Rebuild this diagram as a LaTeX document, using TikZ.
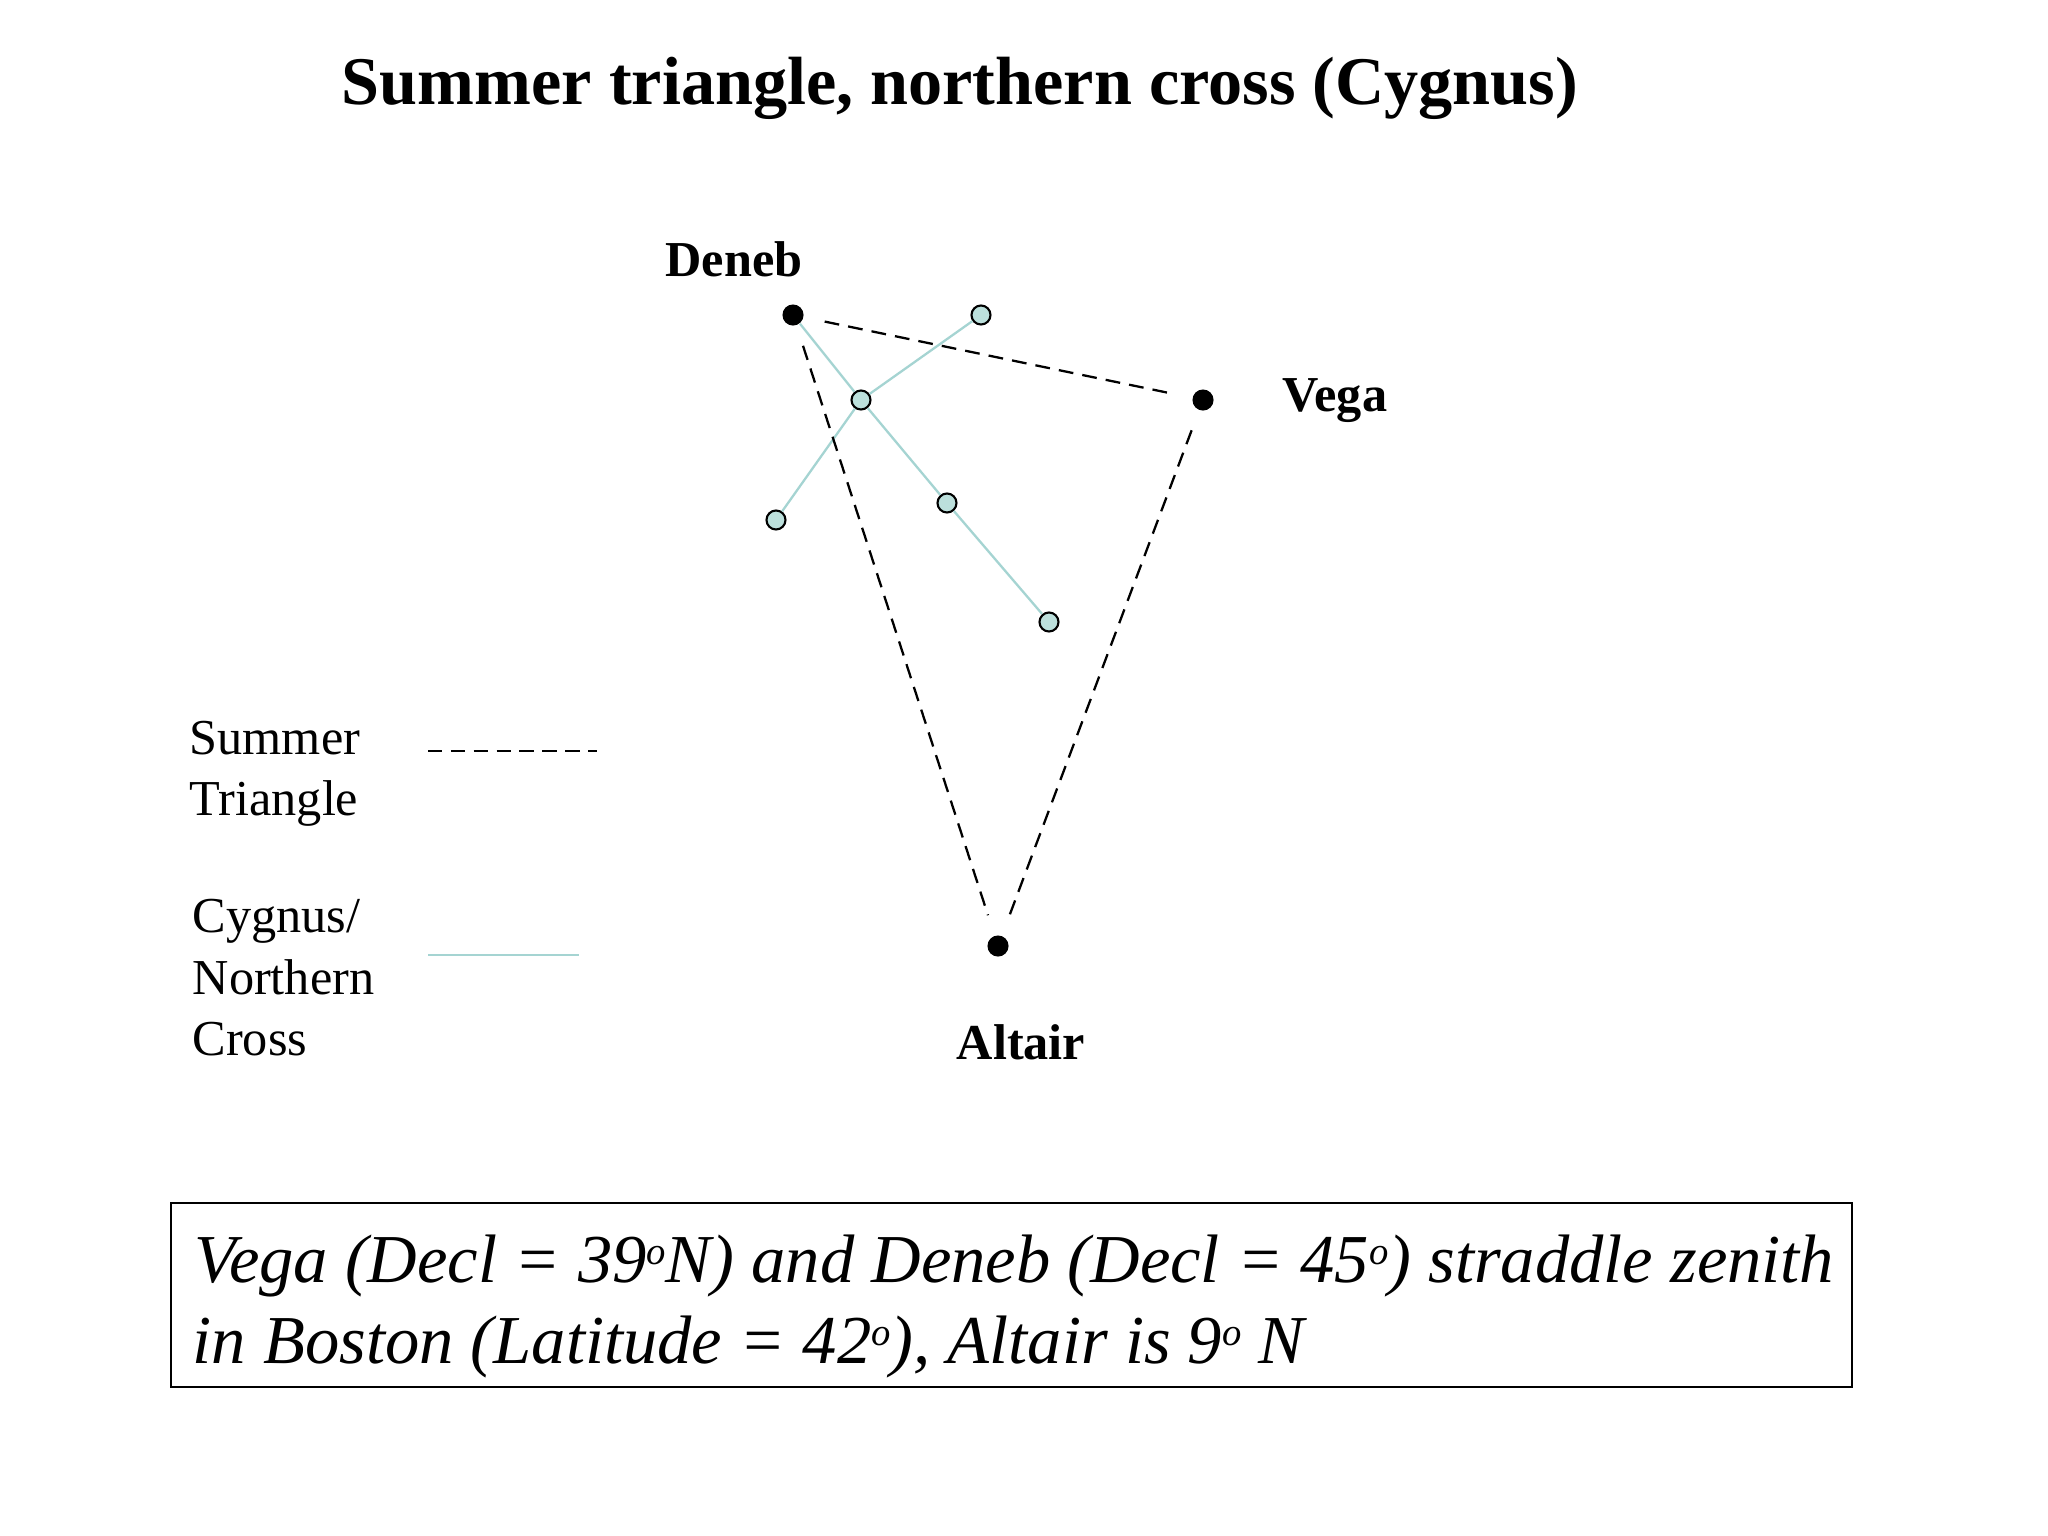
\documentclass[tikz,border=0pt]{standalone}
\usepackage{fontspec}
\setmainfont{Liberation Serif}
\definecolor{crossline}{RGB}{165,212,210}
\definecolor{crossfill}{RGB}{188,224,220}
\newcommand{\degsup}{\raisebox{0.55ex}{\fontsize{11}{11}\selectfont o}}
\begin{document}
\begin{tikzpicture}[x=0.01cm,y=-0.01cm,
  bright/.style={circle,fill=black,inner sep=0pt,minimum size=6pt},
  faint/.style={circle,draw=black,line width=0.6pt,fill=crossfill,inner sep=0pt,minimum size=5.4pt},
  triline/.style={line width=0.65pt,dash pattern=on 4.2pt off 2.6pt,shorten >=6pt,shorten <=6pt},
  crosslink/.style={crossline,line width=0.65pt},
  starlabel/.style={font=\fontsize{14.3}{17}\selectfont\bfseries,anchor=base,inner sep=0pt},
  legendtext/.style={font=\fontsize{14.3}{17}\selectfont,anchor=base west,inner sep=0pt},
  boxtext/.style={font=\fontsize{19.5}{23}\selectfont\itshape,anchor=base west,inner sep=0pt}]
\useasboundingbox[fill=white] (0,0) rectangle (2048,1536);
% title
\node[anchor=base,inner sep=0pt,font=\fontsize{19.4}{23}\selectfont\bfseries] (title) at (960,104) {Summer triangle, northern cross (Cygnus)};
% bright stars
\node[bright] (deneb) at (793,315) {};
\node[bright] (vega) at (1203,400) {};
\node[bright] (altair) at (998,946) {};
\node[starlabel] (denebl) at (734,276) {Deneb};
\node[starlabel] (vegal) at (1335,411) {Vega};
\node[starlabel] (altairl) at (1021,1059) {Altair};
% cross stars
\node[faint] (c1) at (981,315) {};
\node[faint] (c2) at (861,400) {};
\node[faint] (c3) at (776,520) {};
\node[faint] (c4) at (947,503) {};
\node[faint] (c5) at (1049,622) {};
\draw[crosslink] (deneb) -- (c2) -- (c4) -- (c5);
\draw[crosslink] (c1) -- (c2) -- (c3);
% triangle
\draw[triline] (deneb) -- (vega);
\draw[triline] (deneb) -- (altair);
\draw[triline] (vega) -- (altair);
% legend
\node[legendtext] (l1) at (189,754) {Summer};
\node[legendtext] (l2) at (189,815) {Triangle};
\node[legendtext] (l3) at (192,932) {Cygnus/};
\node[legendtext] (l4) at (192,994) {Northern};
\node[legendtext] (l5) at (192,1055) {Cross};
\coordinate (d1) at (428,751);
\coordinate (d2) at (597,751);
\coordinate (e1) at (428,955);
\coordinate (e2) at (579,955);
\draw[line width=0.5pt,dash pattern=on 4.1pt off 2.4pt] (d1) -- (d2);
\draw[crosslink] (e1) -- (e2);
% note box
\node[draw,line width=0.6pt,inner sep=0pt,minimum width=1681*0.01cm,minimum height=184*0.01cm] (box) at (1011.5,1295) {};
\node[boxtext] (b1) at (194,1282) {Vega (Decl = 39\degsup N) and Deneb (Decl = 45\degsup) straddle zenith};
\node[boxtext] (b2) at (192,1363) {in Boston (Latitude = 42\degsup), Altair is 9\degsup\ N};
\end{tikzpicture}
\end{document}
